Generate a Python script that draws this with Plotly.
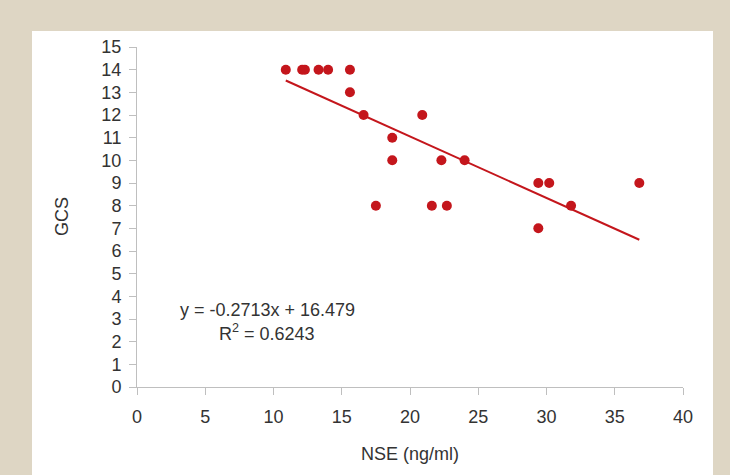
import plotly.graph_objects as go

# Data
nse = [10.9, 12.1, 12.3, 13.3, 14.0, 15.6, 15.6, 16.6, 20.9, 18.7, 18.7,
       22.3, 17.5, 21.6, 22.7, 24.0, 29.4, 30.2, 36.8, 31.8, 29.4]
gcs = [14, 14, 14, 14, 14, 14, 13, 12, 12, 11, 10,
       10, 8, 8, 8, 10, 9, 9, 9, 8, 7]

slope = -0.2713
intercept = 16.479
r2 = 0.6243

x_ticks = [0, 5, 10, 15, 20, 25, 30, 35, 40]
y_ticks = list(range(0, 16))

red = "#C4161C"
axis_col = "#BFBFBF"
text_col = "#333333"
font_family = "Liberation Sans, Arial, sans-serif"

fit_x = [min(nse), max(nse)]
fit_y = [slope * v + intercept for v in fit_x]

fig = go.Figure()
fig.add_trace(go.Scatter(x=fit_x, y=fit_y, mode="lines",
                         line=dict(color=red, width=2), hoverinfo="skip",
                         showlegend=False))
fig.add_trace(go.Scatter(x=nse, y=gcs, mode="markers",
                         marker=dict(color=red, size=10), cliponaxis=False,
                         showlegend=False))

W, H = 730, 475
ml, mr, mt, mb = 137, 47, 47, 88
pw, ph = W - ml - mr, H - mt - mb

def px_x(p):
    return (p - ml) / pw

def px_y(p):
    return (H - mb - p) / ph

fig.add_shape(type="rect", xref="paper", yref="paper",
              x0=px_x(32), x1=px_x(713), y0=px_y(476), y1=px_y(31),
              fillcolor="white", line=dict(width=0), layer="below")

fig.update_layout(
    width=W, height=H,
    margin=dict(l=ml, r=mr, t=mt, b=mb),
    paper_bgcolor="#DED6C4",
    plot_bgcolor="white",
    font=dict(family=font_family, size=18, color=text_col),
    xaxis=dict(range=[0, 40], tickvals=x_ticks, showgrid=False, zeroline=False,
               showline=True, linecolor=axis_col, linewidth=1,
               ticks="outside", ticklen=7, tickcolor=axis_col,
               ticklabelstandoff=6),
    yaxis=dict(range=[0, 15], tickvals=y_ticks, showgrid=False, zeroline=False,
               showline=True, linecolor=axis_col, linewidth=1,
               ticks="outside", ticklen=7, tickcolor=axis_col,
               ticklabelstandoff=4),
    annotations=[
        dict(text="NSE (ng/ml)", xref="paper", yref="paper",
             x=px_x(410), y=px_y(454), showarrow=False,
             xanchor="center", yanchor="middle", font=dict(size=18)),
        dict(text="GCS", xref="paper", yref="paper", textangle=-90,
             x=px_x(62), y=px_y(217), showarrow=False,
             xanchor="center", yanchor="middle", font=dict(size=18)),
        dict(text=f"y = {slope}x + {intercept}", xref="paper", yref="paper",
             x=px_x(267), y=px_y(310), showarrow=False,
             xanchor="center", yanchor="middle", font=dict(size=18)),
        dict(text=f"R<sup>2</sup> = {r2}", xref="paper", yref="paper",
             x=px_x(267), y=px_y(332), showarrow=False,
             xanchor="center", yanchor="middle", font=dict(size=18)),
    ],
)

fig.write_html("out.html",
               config={"displayModeBar": False},
               post_script="document.body.style.margin='0';"
                           "document.body.style.overflow='hidden';")
